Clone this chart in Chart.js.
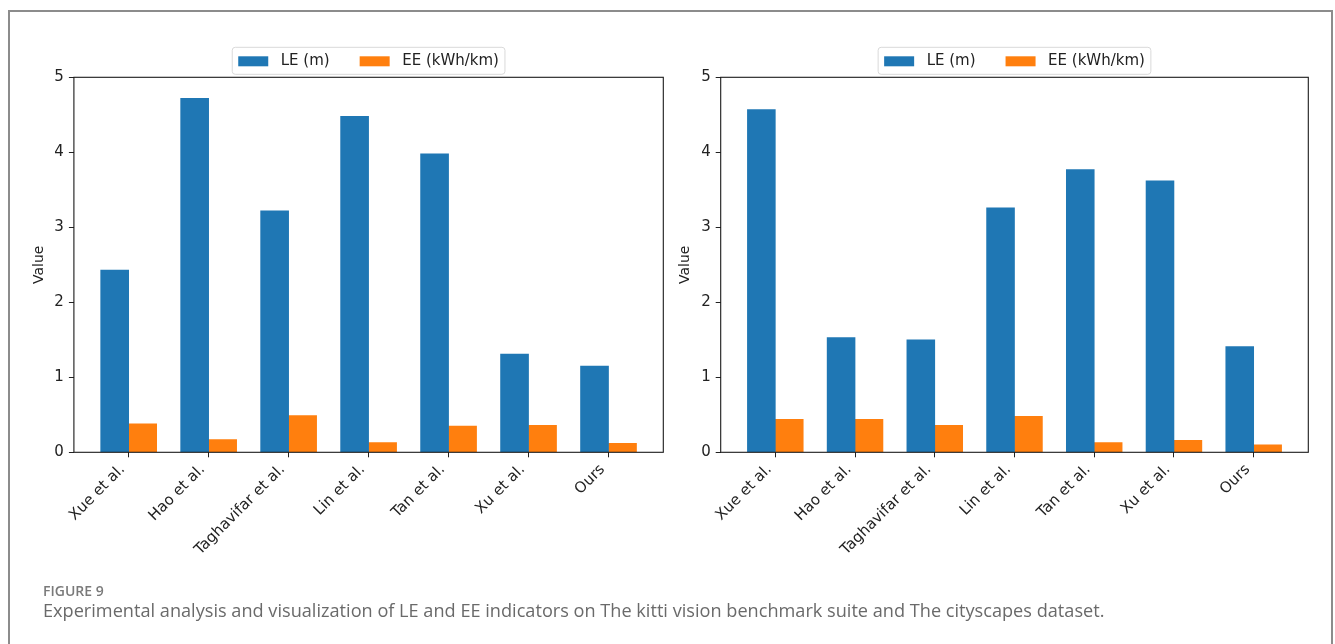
<!DOCTYPE html>
<html>
<head>
<meta charset="utf-8">
<script src="https://cdn.jsdelivr.net/npm/chart.js@4.4.1/dist/chart.umd.min.js"></script>
<style>
  html, body { margin: 0; padding: 0; background: #fff; width: 1335px; height: 644px; overflow: hidden; }
  #frame { position: absolute; left: 8px; top: 10px; width: 1325px; height: 700px; border: 2px solid #8c8c8c; border-bottom: none; box-sizing: border-box; }
  canvas { position: absolute; }
  #fig { position: absolute; left: 43px; top: 582px; font-family: 'Open Sans', sans-serif; font-weight: 600; font-size: 14px; line-height: 18px; color: #7a7a7a; white-space: nowrap; }
  #cap { position: absolute; left: 43px; top: 599px; font-family: 'Open Sans', sans-serif; font-weight: 400; font-size: 16px; line-height: 22px; color: #6a6a6a; white-space: nowrap; display: inline-block; }
</style>
</head>
<body>
<div id="frame"></div>
<canvas id="c1" width="670" height="570" style="left:10px; top:30px;"></canvas>
<canvas id="c2" width="670" height="570" style="left:660px; top:30px;"></canvas>
<div id="fig">FIGURE 9</div>
<div id="cap">Experimental analysis and visualization of LE and EE indicators on The kitti vision benchmark suite and The cityscapes dataset.</div>
<script>
// ---- data ----
const categories = ['Xue et al.', 'Hao et al.', 'Taghavifar et al.', 'Lin et al.', 'Tan et al.', 'Xu et al.', 'Ours'];
const seriesNames = ['LE (m)', 'EE (kWh/km)'];
const kittiLE = [2.43, 4.72, 3.22, 4.48, 3.98, 1.31, 1.15];
const kittiEE = [0.38, 0.17, 0.49, 0.13, 0.35, 0.36, 0.12];
const cityLE  = [4.57, 1.53, 1.50, 3.26, 3.77, 3.62, 1.41];
const cityEE  = [0.44, 0.44, 0.36, 0.48, 0.13, 0.16, 0.10];
const yTicks = [0, 1, 2, 3, 4, 5];
const yLabel = 'Value';

// ---- style ----
const COLORS = ['#1f77b4', '#ff7f0e'];
const BAR_W = 0.35;
const FONT = "'DejaVu Sans', sans-serif";
Chart.defaults.font.family = FONT;
Chart.defaults.font.size = 15;
Chart.defaults.color = '#222';

const frameLegendPlugin = {
  id: 'frameLegend',
  afterDraw(chart) {
    const ctx = chart.ctx;
    const a = chart.chartArea;
    ctx.save();
    ctx.strokeStyle = '#1a1a1a';
    ctx.lineWidth = 1.1;
    ctx.strokeRect(a.left, a.top, a.right - a.left, a.bottom - a.top);
    ctx.font = '15px ' + FONT;
    const pad = 6, patchW = 30, patchH = 10, gap = 12.5, colSp = 30;
    const w = seriesNames.map(s => ctx.measureText(s).width);
    const boxW = pad + patchW + gap + w[0] + colSp + patchW + gap + w[1] + pad;
    const boxH = 27;
    const cx = (a.left + a.right) / 2;
    const bx = cx - boxW / 2, by = a.top - 30;
    ctx.globalAlpha = 0.8;
    ctx.fillStyle = '#fff';
    ctx.beginPath();
    ctx.roundRect(bx, by, boxW, boxH, 3);
    ctx.fill();
    ctx.globalAlpha = 1;
    ctx.strokeStyle = '#d9d9d9';
    ctx.lineWidth = 1;
    ctx.stroke();
    let x = bx + pad;
    const cy = by + boxH / 2 + 0.5;
    seriesNames.forEach((s, i) => {
      ctx.fillStyle = COLORS[i];
      ctx.fillRect(x, cy - patchH / 2, patchW, patchH);
      x += patchW + gap;
      ctx.fillStyle = '#222';
      ctx.textBaseline = 'middle';
      ctx.textAlign = 'left';
      ctx.fillText(s, x, cy);
      x += w[i] + colSp;
    });
    ctx.restore();
  }
};

function makeChart(id, le, ee, L) {
  const padLeft = 2, padBottom = 8;
  const titleLH = 14 * 1.2;
  const datasets = [le, ee].map((vals, k) => ({
    label: seriesNames[k],
    data: vals.map((v, i) => ({ x: i + (k === 0 ? -BAR_W / 2 : BAR_W / 2), y: v })),
    backgroundColor: COLORS[k],
    borderWidth: 0,
    grouped: false,
    barPercentage: 1,
    categoryPercentage: 1
  }));
  const span = categories.length - 1 + BAR_W * 2;
  const margin = span * 0.05;
  return new Chart(document.getElementById(id), {
    type: 'bar',
    data: { datasets },
    options: {
      responsive: false,
      animation: false,
      events: [],
      layout: {
        padding: {
          left: padLeft,
          top: L.plotTop - L.canvasTop,
          right: L.canvasW - (L.plotRight - L.canvasLeft),
          bottom: padBottom
        }
      },
      plugins: { legend: { display: false }, tooltip: { enabled: false } },
      scales: {
        x: {
          type: 'linear',
          offset: false,
          bounds: 'data',
          min: -BAR_W - margin,
          max: categories.length - 1 + BAR_W + margin,
          afterBuildTicks(s) { s.ticks = categories.map((c, i) => ({ value: i })); },
          afterFit(s) { s.height = L.canvasH - (L.plotBottom - L.canvasTop) - padBottom; },
          ticks: {
            autoSkip: false,
            minRotation: 45,
            maxRotation: 45,
            padding: 3.5,
            labelOffset: -6,
            callback: (v) => categories[v] ?? ''
          },
          grid: { offset: false, drawOnChartArea: false, drawTicks: true, tickLength: 5, color: '#222' },
          border: { display: false }
        },
        y: {
          min: yTicks[0],
          max: yTicks[yTicks.length - 1],
          afterBuildTicks(s) { s.ticks = yTicks.map(v => ({ value: v })); },
          afterFit(s) { s.width = L.plotLeft - L.canvasLeft - padLeft; },
          ticks: { padding: 5, callback: (v) => String(v) },
          grid: { drawOnChartArea: false, drawTicks: true, tickLength: 5, color: '#222' },
          border: { display: false },
          title: {
            display: true,
            text: yLabel,
            font: { size: 14 },
            color: '#222',
            padding: { top: L.titleX - L.canvasLeft - padLeft - titleLH / 2, bottom: 0 }
          }
        }
      }
    },
    plugins: [frameLegendPlugin]
  });
}

const common = { canvasTop: 30, canvasW: 670, canvasH: 570, plotTop: 77.3, plotBottom: 452.3 };
makeChart('c1', kittiLE, kittiEE, Object.assign({ canvasLeft: 10, plotLeft: 73.9, plotRight: 663.3, titleX: 39.4 }, common));
makeChart('c2', cityLE, cityEE, Object.assign({ canvasLeft: 660, plotLeft: 720.7, plotRight: 1308.3, titleX: 685 }, common));

const cap = document.getElementById('cap');
const w0 = cap.getBoundingClientRect().width;
cap.style.fontSize = (16 * 1062 / w0).toFixed(2) + 'px';
</script>
</body>
</html>
